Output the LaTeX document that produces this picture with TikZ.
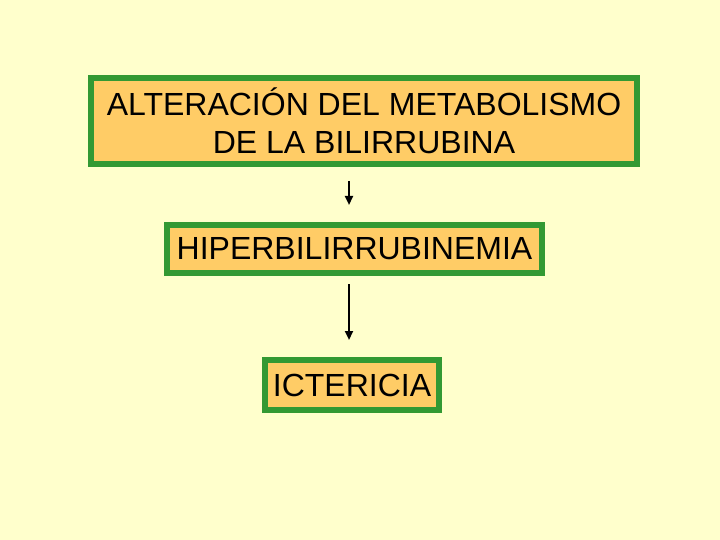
\documentclass[tikz,border=0pt]{standalone}
\usepackage{fontspec}
\setmainfont{Liberation Sans}
\usetikzlibrary{arrows.meta}
\definecolor{fondo}{HTML}{FFFFCC}
\definecolor{caja}{HTML}{FFCC66}
\definecolor{borde}{HTML}{339933}
\tikzset{
  cajita/.style={draw=borde, fill=caja, line width=6pt, inner sep=0pt,
    align=center, font=\fontsize{32}{38}\selectfont},
  flecha/.style={line width=2.2pt, -{Triangle[width=8pt,length=9pt]}}
}
\begin{document}
\begin{tikzpicture}[x=1pt, y=-1pt]
            \fill[fondo] (0,0) rectangle (720,540);
            \useasboundingbox (0,0) rectangle (720,540);
            \node[cajita, minimum width=546pt, minimum height=86pt] (alt) at (364,121)
              {ALTERACIÓN DEL METABOLISMO\\DE LA BILIRRUBINA};
            \node[cajita, minimum width=375pt, minimum height=48pt] (hip) at (354.5,249)
              {HIPERBILIRRUBINEMIA};
            \node[cajita, minimum width=174pt, minimum height=50pt] (ict) at (352,385)
              {ICTERICIA};
            \coordinate (eje) at (349,0);
            \draw[flecha, shorten <=14pt, shorten >=17pt] (alt.south -| eje) -- (hip.north -| eje);
            \draw[flecha, shorten <=8pt, shorten >=17pt] (hip.south -| eje) -- (ict.north -| eje);
        \end{tikzpicture}
\end{document}
